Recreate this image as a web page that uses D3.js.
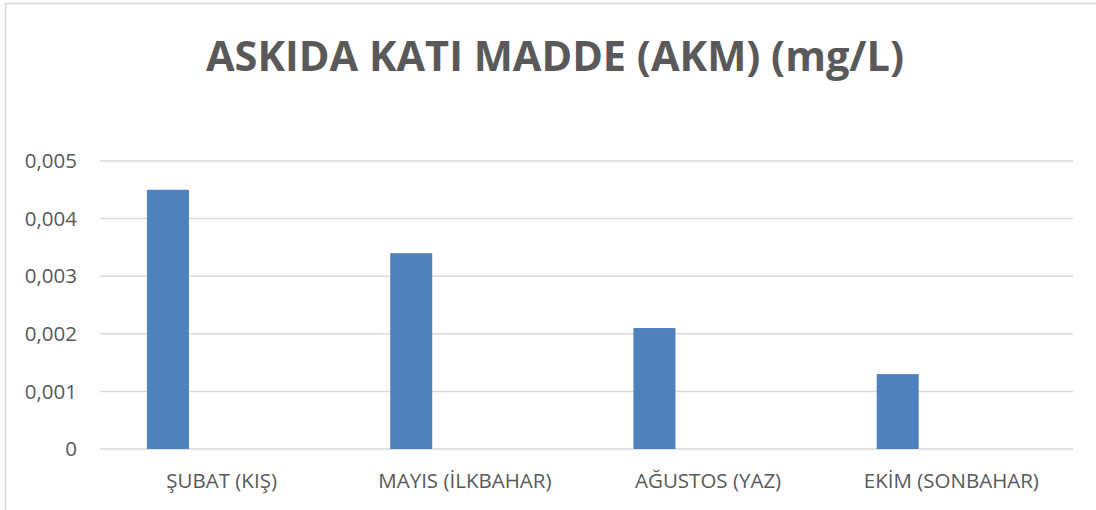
<html>
<head>
  <meta charset="utf-8">
  <script src="https://cdn.jsdelivr.net/npm/d3@7/dist/d3.min.js"></script>
  <style>
    body { margin: 0; background: #fff; }
    text { font-family: "Open Sans", "Noto Sans", sans-serif; fill: #595959; }
  </style>
  <script>
    var title = "ASKIDA KATI MADDE (AKM) (mg/L)";
    var categories = ["ŞUBAT (KIŞ)", "MAYIS (İLKBAHAR)", "AĞUSTOS (YAZ)", "EKİM (SONBAHAR)"];
    var akmValues = [0.0045, 0.0034, 0.0021, 0.0013];
    var yTicks = [0, 0.001, 0.002, 0.003, 0.004, 0.005];

    window.onload = function () {
      var width = 1096, height = 510;
      var left = 100, right = 1073, top = 161, bottom = 449;

      var svg = d3.select("body").append("svg").attr("width", width).attr("height", height);

      // chart border (runs off the right and bottom edges)
      svg.append("rect")
        .attr("x", 5.5).attr("y", 3.5)
        .attr("width", 1200).attr("height", 600)
        .attr("fill", "none").attr("stroke", "#d9d9d9").attr("stroke-width", 1.5);

      svg.append("text")
        .attr("x", 555).attr("y", 71)
        .attr("text-anchor", "middle")
        .attr("font-size", 41.5).attr("font-weight", "bold")
        .text(title);

      var y = d3.scaleLinear().domain([0, 0.005]).range([bottom, top]);
      var x0 = d3.scaleBand().domain(categories).range([left, right]);
      // bar sits left of centre in each category (empty second series in the original)
      var x1 = d3.scaleLinear().domain([0, 1]).range([0, x0.bandwidth()]);

      svg.append("g").selectAll("line").data(yTicks).enter().append("line")
        .attr("x1", left).attr("x2", right)
        .attr("y1", function (d) { return y(d); })
        .attr("y2", function (d) { return y(d); })
        .attr("stroke", "#d9d9d9").attr("stroke-width", 1.5);

      svg.append("g").selectAll("text").data(yTicks).enter().append("text")
        .attr("x", 77)
        .attr("y", function (d) { return y(d); })
        .attr("dy", "0.35em")
        .attr("text-anchor", "end")
        .attr("font-size", 20.5)
        .text(function (d) { return d === 0 ? "0" : d.toFixed(3).replace(".", ","); });

      svg.append("g").selectAll("rect").data(akmValues).enter().append("rect")
        .attr("x", function (d, i) { return x0(categories[i]) + x1(0.193); })
        .attr("width", x1(0.1727))
        .attr("y", function (d) { return y(d); })
        .attr("height", function (d) { return y(0) - y(d); })
        .attr("fill", "#4f81bd");

      svg.append("g").selectAll("text").data(categories).enter().append("text")
        .attr("x", function (d) { return x0(d) + x0.bandwidth() / 2; })
        .attr("y", 488)
        .attr("text-anchor", "middle")
        .attr("font-size", 20.5)
        .text(function (d) { return d; });
    };
  </script>
</head>
<body>
</body>
</html>
